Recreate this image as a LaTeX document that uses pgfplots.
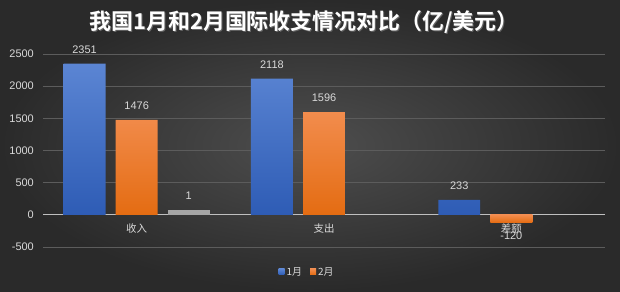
\documentclass[border=0pt]{standalone}
\usepackage{pgfplots}
\pgfplotsset{compat=1.18}
\usepackage{fontspec}
\setmainfont{Liberation Sans}
\newfontfamily\cjk{Noto Sans CJK SC}
\newfontfamily\cjkbold{Noto Sans CJK SC Bold}
\definecolor{bgin}{HTML}{4E4E4E}
\definecolor{bgout}{HTML}{2A2A2A}
\definecolor{txt}{HTML}{D9D9D9}
\definecolor{gridc}{HTML}{5C5C5C}
\definecolor{zeroc}{HTML}{BFBFBF}
\definecolor{blueT}{HTML}{5B85D3}
\definecolor{blueB}{HTML}{2E5CB5}
\definecolor{orT}{HTML}{F28C4D}
\definecolor{orB}{HTML}{E46C12}
\definecolor{grayb}{HTML}{A6A6A6}
\begin{document}
\begin{tikzpicture}[x=1bp,y=1bp]
\shade[inner color=bgin, outer color=bgout] (0,0) rectangle (620,291);
\node[text=black!60, font=\cjkbold\fontsize{22}{26}\selectfont] at (305,268) {我国1月和2月国际收支情况对比（亿/美元）};
\node[text=white, font=\cjkbold\fontsize{22}{26}\selectfont] at (304,269) {我国1月和2月国际收支情况对比（亿/美元）};
\begin{axis}[
  at={(43bp,44bp)}, anchor=south west,
  scale only axis, width=562bp, height=193bp,
  xmin=-0.5, xmax=2.5, ymin=-500, ymax=2500,
  ytick={-500,0,500,1000,1500,2000,2500},
  xtick={0,1,2}, xticklabels={收入,支出,差额},
  axis x line*=middle, axis y line*=left,
  x axis line style={draw=zeroc, line width=1.2pt, -},
  y axis line style={draw=none},
  major tick length=0pt,
  ymajorgrids, grid style={draw=gridc, line width=0.9pt},
  /pgf/number format/.cd, 1000 sep={}, assume math mode=true,
  /pgfplots/.cd,
  ticklabel style={text=txt, font=\fontsize{11}{13}\selectfont},
  yticklabel style={inner sep=0pt, xshift=-9bp},
  xticklabel style={font=\cjk\fontsize{10.5}{12}\selectfont, inner sep=0pt, yshift=-9bp},
  ybar, bar width=0.224,
  nodes near coords,
  nodes near coords style={text=txt, font=\fontsize{11}{13}\selectfont, inner sep=0pt, /pgf/number format/1000 sep={}, /pgf/number format/assume math mode=true},
  legend style={at={(0.5,0)}, anchor=north, xshift=-17bp, yshift=-18bp, draw=none, fill=none,
    legend columns=-1, text=txt, font=\cjk\fontsize{10}{12}\selectfont,
    /tikz/every even column/.append style={column sep=6bp},
    inner sep=0pt},
  legend image code/.code={\fill[#1] (0bp,-3bp) rectangle (6bp,3bp);},
]
\addplot[draw=none, top color=blueT, bottom color=blueB, bar shift=-0.278,
  nodes near coords style={anchor=south, yshift=10bp}]
  coordinates {(0,2351) (1,2118) (2,233)};
\addlegendentry{1月}
\addplot[draw=none, top color=orT, bottom color=orB, bar shift=0,
  nodes near coords style={anchor=south, yshift=10bp}]
  coordinates {(0,1476) (1,1596)};
\addlegendentry{2月}
\addplot[draw=none, top color=orT, bottom color=orB, bar shift=0, forget plot,
  nodes near coords style={anchor=north, yshift=-9bp}]
  coordinates {(2,-120)};
\addplot[draw=none, fill=grayb, bar shift=0.278, forget plot,
  point meta=explicit symbolic,
  nodes near coords style={anchor=south, yshift=10bp}]
  coordinates {(0,80) [1]};
\end{axis}
\end{tikzpicture}
\end{document}
